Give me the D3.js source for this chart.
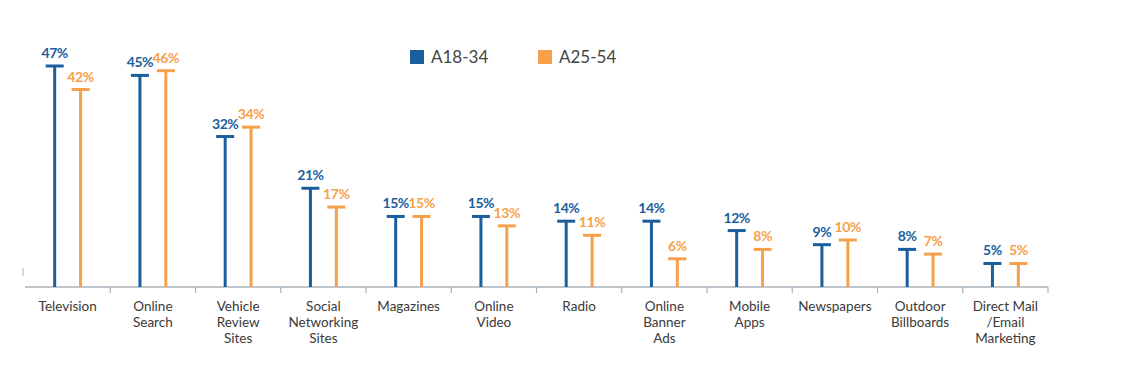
<!DOCTYPE html>
<html>
<head>
<meta charset="utf-8">
<script src="https://cdn.jsdelivr.net/npm/d3@7"></script>
<style>
  body { margin: 0; background: #fff; }
  text { font-family: Lato, "Open Sans", sans-serif; }
</style>
</head>
<body>
<div id="chart"></div>
<script>
// categories (multi-line labels split by |)
var categories = ["Television", "Online|Search", "Vehicle|Review|Sites", "Social|Networking|Sites",
    "Magazines", "Online|Video", "Radio", "Online|Banner|Ads", "Mobile|Apps", "Newspapers",
    "Outdoor|Billboards", "Direct Mail|/Email|Marketing"];
var seriesNames = ["A18-34", "A25-54"];
var a1834 = [47, 45, 32, 21, 15, 15, 14, 14, 12, 9, 8, 5];
var a2554 = [42, 46, 34, 17, 15, 13, 11, 6, 8, 10, 7, 5];
var colors = ["#1a5e9e", "#f6a04b"];

var width = 1124, height = 384;
var svg = d3.select("#chart").append("svg")
    .attr("width", width)
    .attr("height", height);

var x = d3.scaleBand()
    .domain(d3.range(categories.length))
    .range([25, 1048]);

var xs = d3.scaleBand()
    .domain([0, 1])
    .range([x.bandwidth() / 2 - 22, x.bandwidth() / 2 + 22])
    .paddingInner(0.3);

var y = d3.scaleLinear()
    .domain([0, 47])
    .range([287, 66]);

// baseline axis
var axisG = svg.append("g");
axisG.append("line")
    .attr("x1", x.range()[0]).attr("x2", x.range()[1])
    .attr("y1", y(0)).attr("y2", y(0))
    .attr("stroke", "#a9b3bb").attr("stroke-width", 1.5);
// tick marks between categories
var tickPos = d3.range(1, categories.length + 1).map(function(i) { return x.range()[0] + i * x.step(); });
axisG.selectAll(".tk")
    .data(tickPos)
    .enter().append("line")
    .attr("x1", function(d) { return d; }).attr("x2", function(d) { return d; })
    .attr("y1", y(0)).attr("y2", y(0) + 6)
    .attr("stroke", "#a9b3bb").attr("stroke-width", 1.2);
// small left mark
axisG.append("line")
    .attr("x1", 23).attr("x2", 23)
    .attr("y1", 268).attr("y2", 276)
    .attr("stroke", "#a9b3bb").attr("stroke-width", 1);

// stems
[a1834, a2554].forEach(function(vals, s) {
    var g = svg.append("g");
    var cx = function(d, i) { return x(i) + xs(s) + xs.bandwidth() / 2; };
    g.selectAll(".stem")
        .data(vals)
        .enter().append("line")
        .attr("x1", cx).attr("x2", cx)
        .attr("y1", y(0)).attr("y2", function(d) { return y(d); })
        .attr("stroke", colors[s]).attr("stroke-width", 3);
    g.selectAll(".cap")
        .data(vals)
        .enter().append("line")
        .attr("x1", function(d, i) { return cx(d, i) - 9; })
        .attr("x2", function(d, i) { return cx(d, i) + 9; })
        .attr("y1", function(d) { return y(d); })
        .attr("y2", function(d) { return y(d); })
        .attr("stroke", colors[s]).attr("stroke-width", 3);
    g.selectAll(".lbl")
        .data(vals)
        .enter().append("text")
        .attr("x", cx)
        .attr("y", function(d) { return y(d) - 8; })
        .attr("text-anchor", "middle")
        .attr("fill", colors[s])
        .style("font-size", "14px")
        .style("font-weight", "bold")
        .style("letter-spacing", "-0.4px")
        .text(function(d) { return d + "%"; });
});

// category labels
var lbl = svg.selectAll(".cat")
    .data(categories)
    .enter().append("text")
    .attr("text-anchor", "middle")
    .attr("fill", "#3a3a3a")
    .style("font-size", "13.5px");
lbl.each(function(d, i) {
    var t = d3.select(this);
    d.split("|").forEach(function(line, j) {
        t.append("tspan")
            .attr("x", x(i) + x.bandwidth() / 2)
            .attr("y", 311 + j * 16)
            .text(line);
    });
});

// legend
var legend = svg.append("g");
var legX = [410, 538];
seriesNames.forEach(function(name, i) {
    legend.append("rect")
        .attr("x", legX[i]).attr("y", 50)
        .attr("width", 14).attr("height", 14)
        .attr("fill", colors[i]);
    legend.append("text")
        .attr("x", legX[i] + 21).attr("y", 63)
        .attr("fill", "#444")
        .style("font-size", "17px")
        .text(name);
});
</script>
</body>
</html>
